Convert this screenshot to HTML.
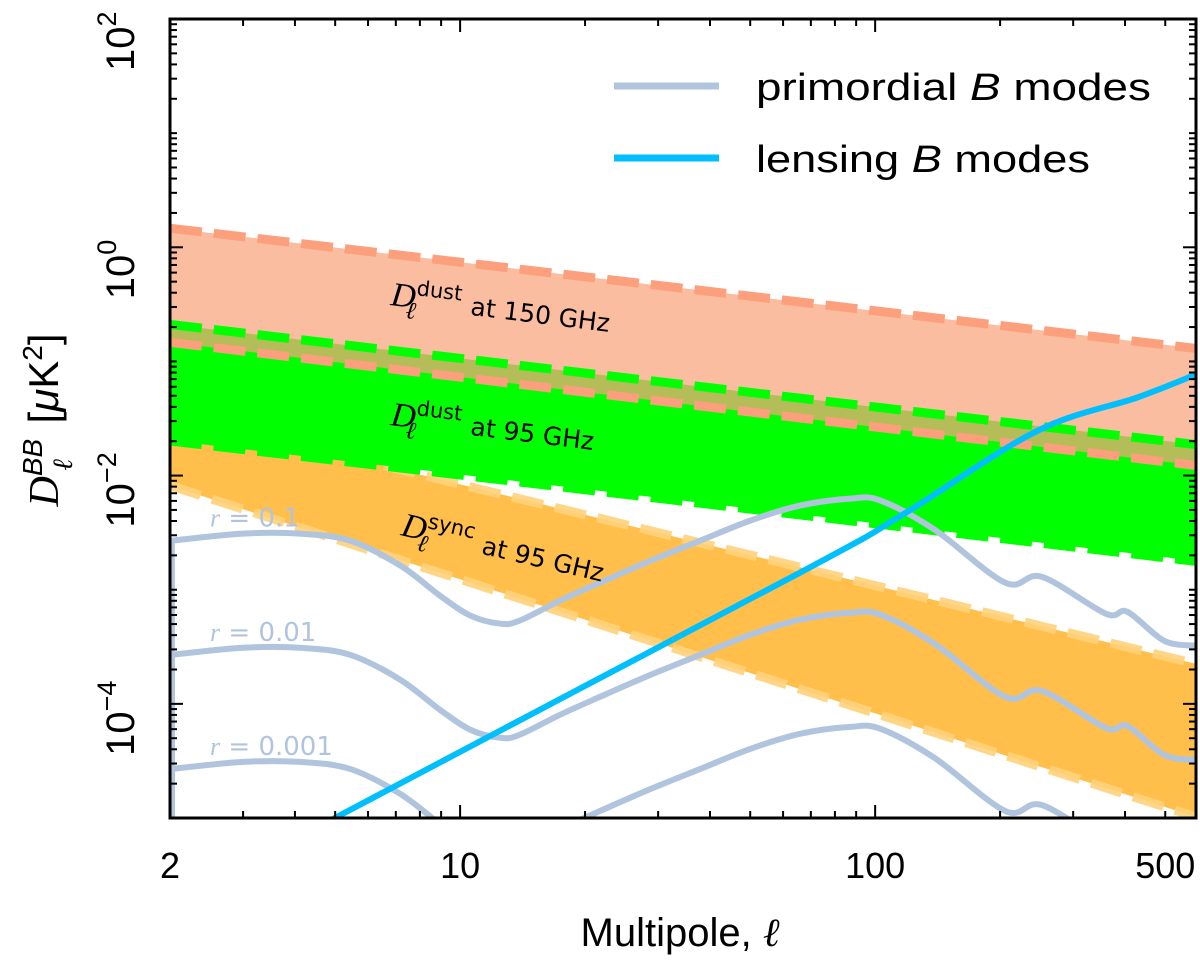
<!DOCTYPE html>
<html><head><meta charset="utf-8"><style>
html,body{margin:0;padding:0;background:#fff;}
svg{display:block;font-family:"Liberation Sans","DejaVu Sans",sans-serif;}
</style></head><body>
<svg id="chart" width="1200" height="965" viewBox="0 0 1200 965" xmlns="http://www.w3.org/2000/svg">
<defs><clipPath id="clip"><rect x="170" y="19" width="1026" height="799"/></clipPath></defs>
<g id="plot" clip-path="url(#clip)"></g>
<g id="axes"></g>
<g>
  <line x1="614" y1="86" x2="719" y2="86" stroke="#b0c4de" stroke-width="7"/>
  <text x="756" y="100" font-size="38" textLength="395" lengthAdjust="spacingAndGlyphs">primordial <tspan font-style="italic">B</tspan> modes</text>
  <line x1="614" y1="158" x2="719" y2="158" stroke="#00bfff" stroke-width="7"/>
  <text x="756" y="172" font-size="38" textLength="334" lengthAdjust="spacingAndGlyphs">lensing <tspan font-style="italic">B</tspan> modes</text>
</g>
<text x="680" y="946" font-size="40" text-anchor="middle">Multipole, <tspan font-style="italic" font-family="Liberation Serif,serif">ℓ</tspan></text>
<text transform="translate(58,420) rotate(-90)" font-size="42" text-anchor="middle"><tspan font-family="Liberation Serif,serif" font-style="italic">D</tspan><tspan font-size="28" dy="-16" font-style="italic">BB</tspan><tspan font-size="28" dx="-32" dy="30" font-style="italic" font-family="Liberation Serif,serif">ℓ</tspan><tspan dx="24" dy="-14"> [</tspan><tspan font-style="italic">μ</tspan><tspan>K</tspan><tspan font-size="28" dy="-16">2</tspan><tspan dy="16">]</tspan></text>
</svg>
<script>
// ---- data ----
const xDomain = [2, 593];
const yDomain = [1e-5, 1e2];
const primEll = [2.02, 3, 4.11, 5.43, 7.17, 8.95, 10.6, 12.5, 13.9, 17.4, 21.7, 28.7, 37.9, 50, 65.9, 87, 103, 139, 206, 252, 360, 405, 497, 593];
const primTemplateR1 = [0.0269, 0.0310, 0.0310, 0.0269, 0.0163, 0.00885, 0.00592, 0.00504, 0.00535, 0.00802, 0.0115, 0.0179, 0.0269, 0.0403, 0.0546, 0.0628, 0.0604, 0.0336, 0.0115, 0.0130, 0.00615, 0.00641, 0.00357, 0.00323];
const rValues = [0.1, 0.01, 0.001];
const rLabels = ["0.1", "0.01", "0.001"];
const lensEll = [4.5, 4.99, 65.9, 115.5, 244, 428, 593];
const lensVal = [7.2e-6, 1e-5, 1.41e-3, 4.46e-3, 0.0243, 0.0483, 0.0769];
const bandEll = [2, 593];
const dust150Upper = [1.47, 0.130];
const dust150Lower = [0.147, 0.01225];
const dust95Upper = [0.211, 0.0187];
const dust95Lower = [0.0203, 0.00179];
const syncUpper = [0.035, 2.24e-4];
const syncLower = [8.17e-3, 1.02e-5];
const xTickVals = [2, 10, 100, 500];
const xTickLabels = ["2", "10", "100", "500"];
const yTickVals = [1e2, 1, 1e-2, 1e-4];
const yTickExps = ["2", "0", "\u22122", "\u22124"];

// ---- scales ----
const L = 170, R = 1196, T = 19, B = 818;
function X(v){ return L + (Math.log10(v) - Math.log10(xDomain[0])) / (Math.log10(xDomain[1]) - Math.log10(xDomain[0])) * (R - L); }
function Y(v){ return T + (Math.log10(yDomain[1]) - Math.log10(v)) / (Math.log10(yDomain[1]) - Math.log10(yDomain[0])) * (B - T); }
const NS = "http://www.w3.org/2000/svg";
const plot = document.getElementById('plot');
const axes = document.getElementById('axes');
function mk(tag, attrs, parent){ const e = document.createElementNS(NS, tag); for (const k in attrs) e.setAttribute(k, attrs[k]); parent.appendChild(e); return e; }
function smoothBody(pts){
  let d = '';
  for (let i = 0; i < pts.length - 1; i++){
    const p0 = pts[i-1] || pts[i], p1 = pts[i], p2 = pts[i+1], p3 = pts[i+2] || p2;
    const c1 = [p1[0] + (p2[0]-p0[0])/6, p1[1] + (p2[1]-p0[1])/6];
    const c2 = [p2[0] - (p3[0]-p1[0])/6, p2[1] - (p3[1]-p1[1])/6];
    d += ` C${c1[0]},${c1[1]} ${c2[0]},${c2[1]} ${p2[0]},${p2[1]}`;
  }
  return d;
}
function bandPoly(up, lo){
  return `M${X(bandEll[0])},${Y(up[0])} L${X(bandEll[1])},${Y(up[1])} L${X(bandEll[1])},${Y(lo[1])} L${X(bandEll[0])},${Y(lo[0])} Z`;
}
function edge(vals){ return `M${X(bandEll[0])},${Y(vals[0])} L${X(bandEll[1])},${Y(vals[1])}`; }

let e;
e = mk('path', {d: bandPoly(syncUpper, syncLower), fill: '#ffbf4a'}, plot);


[syncUpper, syncLower].forEach((v) => {
  const l = mk('path', {d: edge(v), fill: 'none', stroke: '#ffd27a', 'stroke-width': 9, 'stroke-dasharray': '32 12', opacity: 0.9}, plot);
  
  
});
e = mk('path', {d: bandPoly(dust95Upper, dust95Lower), fill: '#00ff00'}, plot);


e = mk('path', {d: edge(dust95Lower), fill: 'none', stroke: '#00ff00', 'stroke-width': 10, 'stroke-dasharray': '32 12'}, plot);


e = mk('path', {d: bandPoly(dust150Upper, dust150Lower), fill: 'rgba(250,164,122,0.72)'}, plot);


[dust150Upper, dust150Lower].forEach((v) => {
  const l = mk('path', {d: edge(v), fill: 'none', stroke: '#fc9f7c', 'stroke-width': 9, 'stroke-dasharray': '32 12'}, plot);
  
  
});
e = mk('path', {d: edge(dust95Upper), fill: 'none', stroke: '#00ff00', 'stroke-width': 9, 'stroke-dasharray': '32 12'}, plot);



rValues.forEach((r, k) => {
  const pts = primEll.map((l, i) => [X(l), Y(primTemplateR1[i] * r)]);
  const p = mk('path', {d: `M${L+2},${B+5} L${pts[0][0]},${pts[0][1]}` + smoothBody(pts), fill: 'none', stroke: '#b0c4de', 'stroke-width': 6}, plot);
  
  
  const t = mk('text', {x: 210, y: Y(primTemplateR1[0] * r) - 14, 'font-size': 26, fill: '#b0c4de', 'font-family': 'DejaVu Sans, sans-serif'}, plot);
  
  
  t.innerHTML = `<tspan font-style="italic" font-family="Liberation Serif,serif">r</tspan> = ${rLabels[k]}`;
});
e = mk('path', {d: (() => { const pts = lensEll.map((l, i) => [X(l), Y(lensVal[i])]); return `M${pts[0][0]},${pts[0][1]}` + smoothBody(pts); })(), fill: 'none', stroke: '#00bfff', 'stroke-width': 6}, plot);



function bandLabel(name, sup, rest, x, y, rot){
  const t = mk('text', {transform: `translate(${x},${y}) rotate(${rot})`, 'font-size': 25, fill: '#000', 'font-family': 'DejaVu Sans, sans-serif'}, plot);
  
  
  const w = sup.length * 13;
  t.innerHTML = `<tspan font-family="Liberation Serif,serif" font-style="italic" font-size="34">D</tspan><tspan dy="-13" font-size="21">${sup}</tspan><tspan dx="-${w+2}" dy="24" font-family="Liberation Serif,serif" font-style="italic" font-size="24">ℓ</tspan><tspan dx="${w-6}" dy="-11"> at ${rest}</tspan>`;
}
bandLabel('dust-150ghz-label', 'dust', '150 GHz', 390, 305, 7);
bandLabel('dust-95ghz-label', 'dust', '95 GHz', 390, 425, 7);
bandLabel('sync-95ghz-label', 'sync', '95 GHz', 400, 535, 13);

e = mk('rect', {x: L, y: T, width: R - L, height: B - T, fill: 'none', stroke: '#000', 'stroke-width': 3}, axes);


function tickX(v, len){
  const x = X(v);
  mk('line', {x1: x, y1: B, x2: x, y2: B - len, stroke: '#000', 'stroke-width': 2}, axes);
  mk('line', {x1: x, y1: T, x2: x, y2: T + len, stroke: '#000', 'stroke-width': 2}, axes);
}
function tickY(v, len){
  const y = Y(v);
  mk('line', {x1: L, y1: y, x2: L + len, y2: y, stroke: '#000', 'stroke-width': 2}, axes);
  mk('line', {x1: R, y1: y, x2: R - len, y2: y, stroke: '#000', 'stroke-width': 2}, axes);
}
for (let d = 0; d <= 2; d++) for (let m = 1; m <= 9; m++){
  const v = m * Math.pow(10, d);
  if (v < xDomain[0] || v > xDomain[1]) continue;
  tickX(v, (m === 1) ? 13 : 7);
}
for (let d = -5; d <= 1; d++) for (let m = 1; m <= 9; m++){
  const v = m * Math.pow(10, d);
  if (v < yDomain[0] || v > yDomain[1]) continue;
  tickY(v, (m === 1 && d % 2 === 0) ? 13 : 7);
}
xTickVals.forEach((v, i) => {
  const t = mk('text', {x: X(v), y: 878, 'font-size': 36, 'text-anchor': 'middle'}, axes);
  
  
  t.textContent = xTickLabels[i];
});
yTickVals.forEach((v, i) => {
  const t = mk('text', {transform: `translate(${134},${Y(v) + 52}) rotate(-90)`, 'font-size': 40, 'text-anchor': 'start'}, axes);
  
  
  t.innerHTML = `10<tspan font-size="27" dy="-18">${yTickExps[i]}</tspan>`;
});
</script>
</body></html>
